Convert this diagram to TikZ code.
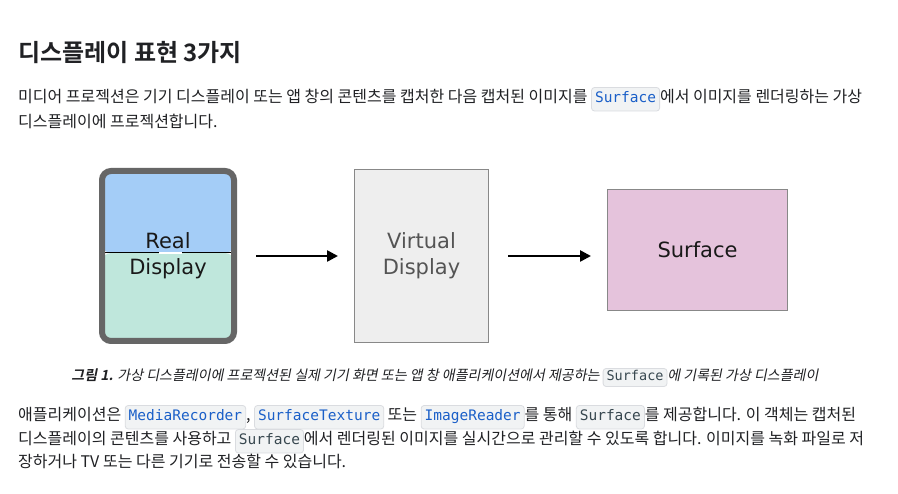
\documentclass[tikz,border=0pt]{standalone}
\usepackage{fontspec}
\usepackage{xcolor}
\usepackage{tikz}
\usetikzlibrary{arrows.meta}

\setmainfont{Noto Sans CJK KR}[BoldFont={Noto Sans CJK KR Bold}]
\newfontfamily\capfont{Noto Sans CJK KR}[FakeSlant=0.2,BoldFont={Noto Sans CJK KR Bold},BoldFeatures={FakeSlant=0.2}]
\newfontfamily\diagfont{DejaVu Sans}
\newfontfamily\codefont{DejaVu Sans Mono}

\definecolor{inktext}{HTML}{202124}
\definecolor{chipbg}{HTML}{F1F3F4}
\definecolor{chipline}{HTML}{DADCE0}
\definecolor{chipblue}{HTML}{1A5FC8}
\definecolor{chipgray}{HTML}{37474F}
\definecolor{devgray}{HTML}{666666}
\definecolor{topblue}{RGB}{164,205,247}
\definecolor{mint}{RGB}{191,231,220}
\definecolor{virtfill}{HTML}{EEEEEE}
\definecolor{boxline}{HTML}{888888}
\definecolor{surfpink}{RGB}{229,195,220}

\tikzset{
  chip/.style={draw=chipline, fill=chipbg, rounded corners=3pt, line width=0.8pt,
    inner xsep=3.5pt, inner ysep=5pt, text height=10.5pt, text depth=3pt,
    text=chipblue, font=\codefont\fontsize{14.5}{16}\selectfont},
  darkchip/.style={text=chipgray},
  smallchip/.style={inner ysep=3pt, text height=9.5pt, text depth=2.5pt,
    font=\codefont\fontsize{13.5}{15}\selectfont},
  para/.style={anchor=base west, inner sep=0pt, text=inktext,
    font=\fontsize{16}{20}\selectfont},
  flow/.style={-{Triangle[length=11pt,width=11pt]}, line width=2.5pt,
    shorten <=19pt, shorten >=16pt}
}
\newcommand{\codechip}[2][]{\tikz[baseline=(c.base)]\node[chip,#1](c){#2};}

\begin{document}
\begin{tikzpicture}[x=1pt,y=-1pt]
  \useasboundingbox[fill=white] (0,0) rectangle (898,494);
  % title and intro
  \node[para, font=\bfseries\fontsize{24}{28}\selectfont] (title) at (18,62) {디스플레이 표현 3가지};
  \node[para] (intro1) at (18,103) {미디어 프로젝션은 기기 디스플레이 또는 앱 창의 콘텐츠를 캡처한 다음 캡처된 이미지를 \codechip{Surface}에서 이미지를 렌더링하는 가상};
  \node[para] (intro2) at (18,128) {디스플레이에 프로젝션합니다.};

  % the three displays
  \node[draw=devgray, line width=6pt, rounded corners=9pt, minimum width=132pt,
    minimum height=170pt, align=center, text=black!90,
    font=\diagfont\fontsize{21}{26}\selectfont,
    path picture={
      \fill[topblue] (path picture bounding box.north west) rectangle ([yshift=3pt]path picture bounding box.east);
      \fill[mint] ([yshift=3pt]path picture bounding box.west) rectangle (path picture bounding box.south east);
      \draw[black, line width=1pt] ([yshift=3pt]path picture bounding box.west) -- ([yshift=3pt]path picture bounding box.east);
      \draw[white, line width=1.2pt] ([xshift=-9pt,yshift=3pt]path picture bounding box.center) -- ([xshift=14pt,yshift=3pt]path picture bounding box.center);
    }] (realdisp) at (168,256) {Real\\Display};
  \node[draw=boxline, fill=virtfill, line width=1pt, minimum width=134pt,
    minimum height=173pt, align=center, text=black!67,
    font=\diagfont\fontsize{21}{26}\selectfont] (virtdisp) at (421.5,256) {Virtual\\Display};
  \node[draw=boxline, fill=surfpink, line width=1pt, minimum width=180pt,
    minimum height=121pt, text=black!90,
    font=\diagfont\fontsize{21}{26}\selectfont] (surf) at (697.5,250) {Surface};
  \draw[flow] (realdisp.east) -- (realdisp.east -| virtdisp.west);
  \draw[flow] (virtdisp.east) -- (virtdisp.east -| surf.west);

  % caption
  \node[anchor=base, inner sep=0pt, text=inktext, font=\capfont\fontsize{14}{18}\selectfont] (caption) at (445,381)
    {\textbf{그림 1.} 가상 디스플레이에 프로젝션된 실제 기기 화면 또는 앱 창 애플리케이션에서 제공하는 \codechip[darkchip,smallchip]{Surface}에 기록된 가상 디스플레이};

  % body text
  \node[para] (body1) at (18,421) {애플리케이션은 \codechip{MediaRecorder}, \codechip{SurfaceTexture} 또는 \codechip{ImageReader}를 통해 \codechip[darkchip]{Surface}를 제공합니다. 이 객체는 캡처된};
  \node[para] (body2) at (18,445) {디스플레이의 콘텐츠를 사용하고 \codechip[darkchip]{Surface}에서 렌더링된 이미지를 실시간으로 관리할 수 있도록 합니다. 이미지를 녹화 파일로 저};
  \node[para] (body3) at (18,468) {장하거나 TV 또는 다른 기기로 전송할 수 있습니다.};
\end{tikzpicture}
\end{document}
